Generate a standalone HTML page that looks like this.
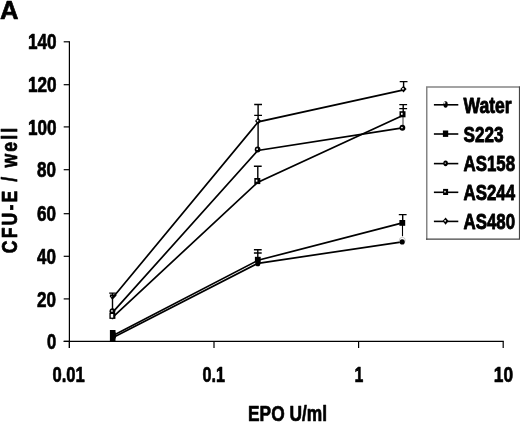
<!DOCTYPE html>
<html><head><meta charset="utf-8"><title>A</title>
<style>
html,body{margin:0;padding:0;background:#fff;}
body{width:520px;height:423px;overflow:hidden;}
svg{display:block;}
text{font-family:"Liberation Sans",sans-serif;font-weight:bold;fill:#000;stroke:#000;stroke-width:0.7;stroke-linejoin:round;}
.ln{stroke:#000;stroke-width:1.7;fill:none;}
.ax{stroke:#000;stroke-width:1.2;fill:none;}
.eb{stroke:#000;stroke-width:1.4;fill:none;}
</style></head><body>
<svg width="520" height="423" viewBox="0 0 520 423">
<rect x="0" y="0" width="520" height="423" fill="#fff"/>

<text x="0" y="18.9" font-size="25.6">A</text>
<path class="ax" d="M69.4 41.3V348M63.7 341.45H503.8"/>
<path class="ax" d="M63.7 341.4H69.4"/>
<text x="46.9" y="349.1" font-size="21.8" textLength="9.2" lengthAdjust="spacingAndGlyphs">0</text>
<path class="ax" d="M63.7 298.9H69.4"/>
<text x="37.1" y="306.5" font-size="21.8" textLength="19.0" lengthAdjust="spacingAndGlyphs">20</text>
<path class="ax" d="M63.7 256.3H69.4"/>
<text x="37.1" y="263.9" font-size="21.8" textLength="19.0" lengthAdjust="spacingAndGlyphs">40</text>
<path class="ax" d="M63.7 213.7H69.4"/>
<text x="37.1" y="221.3" font-size="21.8" textLength="19.0" lengthAdjust="spacingAndGlyphs">60</text>
<path class="ax" d="M63.7 169.7H69.4"/>
<text x="37.1" y="177.3" font-size="21.8" textLength="19.0" lengthAdjust="spacingAndGlyphs">80</text>
<path class="ax" d="M63.7 126.9H69.4"/>
<text x="27.9" y="134.5" font-size="21.8" textLength="28.6" lengthAdjust="spacingAndGlyphs">100</text>
<path class="ax" d="M63.7 84.7H69.4"/>
<text x="27.9" y="92.3" font-size="21.8" textLength="28.6" lengthAdjust="spacingAndGlyphs">120</text>
<path class="ax" d="M63.7 41.8H69.4"/>
<text x="27.9" y="49.4" font-size="21.8" textLength="28.6" lengthAdjust="spacingAndGlyphs">140</text>
<path class="ax" d="M69.4 341.45V348"/>
<text x="52.5" y="382.0" font-size="22" textLength="32.3" lengthAdjust="spacingAndGlyphs">0.01</text>
<path class="ax" d="M214.0 341.45V348"/>
<text x="202.4" y="382.0" font-size="22" textLength="22.5" lengthAdjust="spacingAndGlyphs">0.1</text>
<path class="ax" d="M358.6 341.45V348"/>
<text x="354.5" y="382.0" font-size="22" textLength="8.8" lengthAdjust="spacingAndGlyphs">1</text>
<path class="ax" d="M503.2 341.45V348"/>
<text x="493.8" y="382.0" font-size="22" textLength="19.3" lengthAdjust="spacingAndGlyphs">10</text>
<text x="248" y="420.6" font-size="22" textLength="79" lengthAdjust="spacingAndGlyphs">EPO U/ml</text>
<text transform="translate(17.4,253.2) rotate(-90) scale(0.82,1)" font-size="21.5" letter-spacing="2.6">CFU-E / well</text>
<path class="ln" d="M113.1 337.4L258.0 263.3L402.4 241.9"/>
<path class="ln" d="M113.1 335.6L258.0 260.3L402.5 222.9"/>
<path class="ln" d="M113.1 311.9L257.8 150.5L402.6 127.8"/>
<path class="ln" d="M113.1 316.8L257.5 182.5L402.7 115.5"/>
<path class="ln" d="M113.1 297.3L258.3 121.8L403.7 89.8"/>
<path class="eb" d="M112.5 293.1V319.2M109.2 293.1H115.8"/>
<rect x="109.9" y="330" width="5.6" height="11.4" fill="#000"/>
<path class="eb" d="M258.1 104.5V149.5M254.2 104.5H262.0M254.2 115.4H262.0"/>
<path class="eb" d="M257.8 166.3V181.0M253.9 166.3H261.7"/>
<path class="eb" d="M257.8 249.7V263.0M253.9 249.7H261.7M253.9 253.0H261.7"/>
<path class="eb" d="M403.6 81.6V89.0M399.7 81.6H407.5"/>
<path class="eb" d="M403.2 104.6V114.0M399.3 104.6H407.1M399.3 108.6H407.1"/>
<path d="M403.0 114V127" stroke="#222" stroke-width="0.9" fill="none"/>
<path class="eb" d="M402.7 214.6V223.0M398.8 214.6H406.6"/>
<path d="M402.5 223V236.2" stroke="#000" stroke-width="1.1" fill="none"/>
<circle cx="402.3" cy="240.3" r="3.0" fill="#fff" stroke="#aaa" stroke-width="0.6"/>
<circle cx="112.9" cy="337.5" r="2.55" fill="#000"/>
<circle cx="257.8" cy="263.7" r="2.55" fill="#000"/>
<circle cx="402.2" cy="241.9" r="2.55" fill="#000"/>
<rect x="110.0" y="332.4" width="5.8" height="5.8" fill="#000"/>
<rect x="254.9" y="256.8" width="5.8" height="5.8" fill="#000"/>
<rect x="399.4" y="220.0" width="5.8" height="5.8" fill="#000"/>
<ellipse cx="112.4" cy="311.2" rx="2.90" ry="2.95" fill="#000"/><circle cx="111.95" cy="310.90" r="0.85" fill="#fff"/>
<ellipse cx="257.6" cy="149.5" rx="2.90" ry="2.95" fill="#000"/><circle cx="257.15" cy="149.20" r="0.85" fill="#fff"/>
<ellipse cx="402.4" cy="127.8" rx="2.90" ry="2.95" fill="#000"/><circle cx="401.95" cy="127.50" r="0.85" fill="#fff"/>
<rect x="109.4" y="312.8" width="6.0" height="6.1" fill="#000"/><rect x="110.90" y="314.50" width="1.60" height="2.00" fill="#fff"/>
<rect x="110.8" y="314.0" width="2.4" height="3.6" fill="#fff"/>
<rect x="254.3" y="178.0" width="6.0" height="6.1" fill="#000"/><rect x="255.80" y="179.70" width="1.60" height="2.00" fill="#fff"/>
<rect x="399.5" y="111.2" width="6.0" height="6.1" fill="#000"/><rect x="401.00" y="112.80" width="1.60" height="2.00" fill="#fff"/>
<path d="M109.9 294.6H116.4V295.8L112.9 299.2H111.9L109.9 296.4Z" fill="#000"/>
<circle cx="111.7" cy="296.6" r="0.6" fill="#999"/>
<path d="M258.1 117.8L261.2 121.1L258.1 124.4L255.0 121.1Z" fill="#000"/><path d="M257.60 119.65L258.75 120.80L257.60 121.95L256.45 120.80Z" fill="#fff"/>
<path d="M403.5 85.8L406.6 89.1L403.5 92.4L400.4 89.1Z" fill="#000"/><path d="M403.00 87.65L404.15 88.80L403.00 89.95L401.85 88.80Z" fill="#fff"/>
<rect x="426.75" y="87" width="92.75" height="152.2" fill="#fff"/>
<path d="M426.75 86.2V239.8M426 87H520" stroke="#858585" stroke-width="1.5" fill="none"/>
<path d="M426 239.2H520M519.5 86.5V239.8" stroke="#444" stroke-width="1.2" fill="none"/>
<path class="ln" style="stroke-width:1.6" d="M433.9 104.8H458.3"/>
<ellipse cx="445.6" cy="104.5" rx="2.12" ry="3.20" fill="#000"/><circle cx="444.60" cy="102.80" r="0.85" fill="#fff"/>
<text x="463.5" y="112.8" font-size="22.2" style="stroke-width:0.9" textLength="48.2" lengthAdjust="spacingAndGlyphs">Water</text>
<path class="ln" style="stroke-width:1.6" d="M433.9 134.0H458.3"/>
<rect x="442.9" y="130.5" width="5.3" height="6.4" fill="#000"/>
<text x="463.5" y="141.9" font-size="22.2" style="stroke-width:0.9" textLength="40" lengthAdjust="spacingAndGlyphs">S223</text>
<path class="ln" style="stroke-width:1.6" d="M433.9 163.6H458.3"/>
<ellipse cx="445.6" cy="163.3" rx="2.32" ry="2.83" fill="#000"/><circle cx="445.24" cy="163.06" r="0.68" fill="#fff"/>
<text x="463.5" y="171.4" font-size="22.2" style="stroke-width:0.9" textLength="51.5" lengthAdjust="spacingAndGlyphs">AS158</text>
<path class="ln" style="stroke-width:1.6" d="M433.9 192.3H458.3"/>
<rect x="443.1" y="188.9" width="5.0" height="6.1" fill="#000"/><rect x="444.34" y="190.82" width="1.34" height="1.68" fill="#fff"/>
<text x="463.5" y="200.4" font-size="22.2" style="stroke-width:0.9" textLength="51.5" lengthAdjust="spacingAndGlyphs">AS244</text>
<path class="ln" style="stroke-width:1.6" d="M433.9 221.4H458.3"/>
<path d="M445.6 217.5L448.5 221.1L445.6 224.7L442.7 221.1Z" fill="#000"/><path d="M445.14 219.77L446.20 220.82L445.14 221.88L444.08 220.82Z" fill="#fff"/>
<text x="463.5" y="229.4" font-size="22.2" style="stroke-width:0.9" textLength="51.5" lengthAdjust="spacingAndGlyphs">AS480</text>
</svg></body></html>
